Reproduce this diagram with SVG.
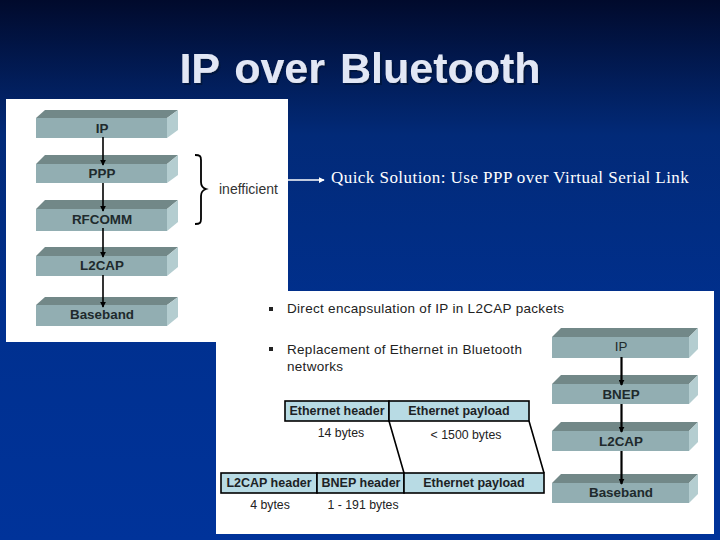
<svg xmlns="http://www.w3.org/2000/svg" width="720" height="540" viewBox="0 0 720 540">
<style>
text{font-family:"Liberation Sans",Arial,sans-serif;fill:#1c1c1c}
.top{fill:#728888}.front{fill:#92aeb2}.side{fill:#b4cdd0}
.lbl{font-size:13.400px;font-weight:bold;text-anchor:middle;fill:#202a2c}
.cell{fill:#b8dbe4;stroke:#000;stroke-width:1.600}
.ct{font-size:12.500px;font-weight:bold;text-anchor:middle;fill:#1c2224}
.sm{font-size:12.300px;text-anchor:middle;fill:#222}
.bt{font-size:13.500px;letter-spacing:.3px;fill:#222}
.ln{stroke:#000;stroke-width:1.600;fill:none}
</style>
<defs>
<linearGradient id="bg" x1="0" y1="0" x2="0" y2="1"><stop offset="0" stop-color="#010a2c"/><stop offset="0.25" stop-color="#022a78"/><stop offset="0.6" stop-color="#00308f"/><stop offset="1" stop-color="#00339a"/></linearGradient>
<filter id="sh" x="-5%" y="-20%" width="110%" height="140%"><feDropShadow dx="2" dy="2" stdDeviation="0.600" flood-color="#00133f"/></filter>
<marker id="a" viewBox="0 0 8 8" refX="7" refY="4" markerWidth="6" markerHeight="6" markerUnits="userSpaceOnUse" orient="auto"><path d="M0 0L8 4L0 8Z" fill="#000"/></marker>
<marker id="w" viewBox="0 0 8 8" refX="7" refY="4" markerWidth="6" markerHeight="6" markerUnits="userSpaceOnUse" orient="auto"><path d="M0 0L8 4L0 8Z" fill="#fff"/></marker>
</defs>
<rect width="720" height="540" fill="url(#bg)"/>
<text x="360" y="83" text-anchor="middle" font-size="43" word-spacing="3" font-weight="bold" style="fill:#e2e7f5" filter="url(#sh)">IP over Bluetooth</text>
<rect x="6" y="99" width="282" height="243" fill="#fff"/>
<rect x="216" y="291" width="498" height="243" fill="#fff"/>

<g id="n-ip"><path class="top" d="M36 118L45 110H178L167 118Z"/><rect class="front" x="36" y="118" width="131" height="20"/><path class="side" d="M167 118L178 110V130L167 138Z"/><text class="lbl" x="102" y="133">IP</text></g>
<g id="n-ppp"><path class="top" d="M36 164L45 155H178L167 164Z"/><rect class="front" x="36" y="164" width="131" height="19"/><path class="side" d="M167 164L178 155V175L167 183Z"/><text class="lbl" x="102" y="178">PPP</text></g>
<g id="n-rfcomm"><path class="top" d="M36 209L45 200H178L167 209Z"/><rect class="front" x="36" y="209" width="131" height="22"/><path class="side" d="M167 209L178 200V222L167 231Z"/><text class="lbl" x="102" y="224">RFCOMM</text></g>
<g id="n-l2cap"><path class="top" d="M36 256L45 247H178L167 256Z"/><rect class="front" x="36" y="256" width="131" height="20"/><path class="side" d="M167 256L178 247V267L167 276Z"/><text class="lbl" x="102" y="270">L2CAP</text></g>
<g id="n-baseband"><path class="top" d="M36 305L45 297H178L167 305Z"/><rect class="front" x="36" y="305" width="131" height="21"/><path class="side" d="M167 305L178 297V317L167 326Z"/><text class="lbl" x="102" y="319">Baseband</text></g>

<g id="n-brace"><path d="M195 155C200 155 201 156 201 160V182C201 186 203 188 206 189C203 190 201 192 201 196V219C201 223 200 224 195 224" fill="none" stroke="#000" stroke-width="1.800"/></g>
<g id="n-inefficient"><text x="219" y="194" font-size="14" style="fill:#333">inefficient</text></g>
<g id="n-quick"><text x="331" y="183" font-size="17" letter-spacing=".45" style="font-family:'Liberation Serif','Times New Roman',serif;fill:#fff">Quick Solution: Use PPP over Virtual Serial Link</text></g>

<g id="n-b1"><rect x="269" y="307" width="4" height="4" fill="#222"/><text class="bt" x="287" y="313">Direct encapsulation of IP in L2CAP packets</text></g>
<g id="n-b2"><rect x="269" y="347" width="4" height="4" fill="#222"/><text class="bt" x="287" y="354">Replacement of Ethernet in Bluetooth</text><text class="bt" x="287" y="371">networks</text></g>

<g id="n-ip2"><path class="top" d="M552 337L561 328H698L689 337Z"/><rect class="front" x="552" y="337" width="137" height="21"/><path class="side" d="M689 337L698 328V349L689 358Z"/><text class="lbl" x="621" y="351" style="font-weight:normal">IP</text></g>
<g id="n-bnep"><path class="top" d="M552 384L561 375H698L689 384Z"/><rect class="front" x="552" y="384" width="137" height="20"/><path class="side" d="M689 384L698 375V395L689 404Z"/><text class="lbl" x="621" y="399">BNEP</text></g>
<g id="n-l2cap2"><path class="top" d="M552 431L561 422H698L689 431Z"/><rect class="front" x="552" y="431" width="137" height="20"/><path class="side" d="M689 431L698 422V442L689 451Z"/><text class="lbl" x="621" y="446">L2CAP</text></g>
<g id="n-baseband2"><path class="top" d="M552 483L561 474H698L689 483Z"/><rect class="front" x="552" y="483" width="137" height="20"/><path class="side" d="M689 483L698 474V494L689 503Z"/><text class="lbl" x="621" y="497">Baseband</text></g>

<g id="n-eth-h"><rect class="cell" x="285" y="401" width="104" height="20"/><text class="ct" x="337" y="415">Ethernet header</text></g>
<g id="n-eth-p"><rect class="cell" x="389" y="401" width="140" height="20"/><text class="ct" x="459" y="415">Ethernet payload</text></g>
<g id="n-l2h"><rect class="cell" x="221" y="473" width="96" height="20"/><text class="ct" x="269" y="487">L2CAP header</text></g>
<g id="n-bneph"><rect class="cell" x="317" y="473" width="87" height="20"/><text class="ct" x="361" y="487">BNEP header</text></g>
<g id="n-eth-p2"><rect class="cell" x="404" y="473" width="140" height="20"/><text class="ct" x="474" y="487">Ethernet payload</text></g>
<g id="n-sizes"><text class="sm" x="341" y="437">14 bytes</text><text class="sm" x="466" y="439">&lt; 1500 bytes</text><text class="sm" x="270" y="509">4 bytes</text><text class="sm" x="363" y="509">1 - 191 bytes</text></g>

<g id="connectors">
<path class="ln" d="M103 137V165" marker-end="url(#a)"/>
<path class="ln" d="M103 183V211" marker-end="url(#a)"/>
<path class="ln" d="M103 228V257" marker-end="url(#a)"/>
<path class="ln" d="M103 275V307" marker-end="url(#a)"/>
<path class="ln" d="M621.500 357V385" marker-end="url(#a)" style="stroke-width:2.200"/>
<path class="ln" d="M621.500 404V432" marker-end="url(#a)" style="stroke-width:2.200"/>
<path class="ln" d="M621.500 451V484" marker-end="url(#a)" style="stroke-width:2.200"/>
<path d="M288 180H324" stroke="#fff" stroke-width="1.300" fill="none" marker-end="url(#w)"/>
<path d="M389 421L404 473M529 421L544 473" class="ln"/>
</g>
</svg>
